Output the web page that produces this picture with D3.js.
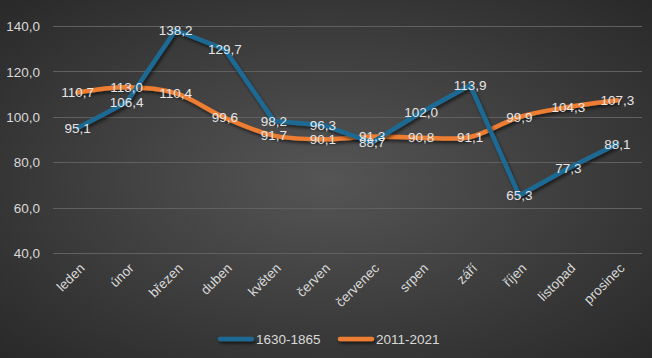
<!DOCTYPE html>
<html><head><meta charset="utf-8">
<script src="https://cdn.jsdelivr.net/npm/d3@7"></script>
<style>html,body{margin:0;padding:0;background:#3a3a3a;}svg{display:block;}</style>
</head><body>
<script>
const months = ["leden","únor","březen","duben","květen","červen","červenec","srpen","září","říjen","listopad","prosinec"];
const seriesNames = ["1630-1865","2011-2021"];
const valuesOld = [95.1,106.4,138.2,129.7,98.2,96.3,88.7,102.0,113.9,65.3,77.3,88.1];
const valuesNew = [110.7,113.0,110.4,99.6,91.7,90.1,91.3,90.8,91.1,99.9,104.3,107.3];
const yTicks = [40,60,80,100,120,140];
const colors = ["#1f6b94","#ed7d31"];

const W=652,H=358;
const svg=d3.select("body").append("svg").attr("width",W).attr("height",H);
const defs=svg.append("defs");
const rg=defs.append("radialGradient").attr("id","bg").attr("cx","50%").attr("cy","50%").attr("r","75%");
rg.append("stop").attr("offset","0%").attr("stop-color","#555555");
rg.append("stop").attr("offset","100%").attr("stop-color","#262626");
const f=defs.append("filter").attr("id","sh").attr("filterUnits","userSpaceOnUse")
 .attr("x",0).attr("y",0).attr("width",W).attr("height",H);
f.append("feDropShadow").attr("dx",1.5).attr("dy",2.5).attr("stdDeviation",1.8).attr("flood-color","#000").attr("flood-opacity",0.55);
svg.append("rect").attr("width",W).attr("height",H).attr("fill","url(#bg)");

const fmt=v=>d3.format(".1f")(v).replace(".",",");
const x=d3.scaleBand().domain(months).range([53,642]);
const y=d3.scaleLinear().domain([40,140]).range([253,26]);
const font="'Liberation Sans', Arial, sans-serif";
const txt="#d9d9d9";
const fs=13.5;

// gridlines
svg.append("g").selectAll("line").data(yTicks).join("line")
 .attr("x1",53).attr("x2",642).attr("y1",d=>Math.round(y(d))+0.5).attr("y2",d=>Math.round(y(d))+0.5)
 .attr("stroke","#606060").attr("stroke-width",1);

// y axis
const ya=svg.append("g").attr("transform","translate(43,0)").call(d3.axisLeft(y).tickValues(yTicks).tickFormat(fmt).tickSize(0));
ya.select(".domain").remove();
ya.selectAll("text").attr("fill",txt).attr("font-size",fs).attr("font-family",font).attr("dy","0.35em");

// x axis
const xa=svg.append("g").attr("transform","translate(0,253)").call(d3.axisBottom(x).tickSize(0));
xa.select(".domain").remove();
xa.selectAll("text").attr("fill",txt).attr("font-size",fs).attr("font-family",font)
 .attr("text-anchor","end").attr("dy",null).attr("y",0)
 .attr("transform","translate(8,16) rotate(-45)");

const cx=d=>x(d)+x.bandwidth()/2;
const data=[valuesOld,valuesNew];
const curves=[d3.curveLinear,d3.curveCatmullRom.alpha(0.5)];
[1,0].forEach(i=>{
  const line=d3.line().x((d,j)=>cx(months[j])).y(d=>y(d)).curve(curves[i]);
  svg.append("path").datum(data[i]).attr("d",line).attr("fill","none")
   .attr("stroke",colors[i]).attr("stroke-width",4.5).attr("stroke-linejoin","round").attr("stroke-linecap","round")
   .attr("filter","url(#sh)");
});
[0,1].forEach(i=>{
  svg.append("g").selectAll("text").data(data[i]).join("text")
   .attr("x",(d,j)=>cx(months[j])).attr("y",d=>y(d)).attr("dy","0.35em")
   .attr("text-anchor","middle").attr("fill","#e6e6e6").attr("font-size",fs).attr("font-family",font)
   .text(fmt);
});

// legend
const leg=[{x:218,t:seriesNames[0],c:colors[0]},{x:338,t:seriesNames[1],c:colors[1]}];
leg.forEach(l=>{
  svg.append("line").attr("x1",l.x+2).attr("x2",l.x+34).attr("y1",339).attr("y2",339)
   .attr("stroke",l.c).attr("stroke-width",4.5).attr("stroke-linecap","round").attr("filter","url(#sh)");
  svg.append("text").attr("x",l.x+38).attr("y",339).attr("dy","0.35em").attr("fill",txt)
   .attr("font-size",fs).attr("font-family",font).text(l.t);
});
</script>
</body></html>
